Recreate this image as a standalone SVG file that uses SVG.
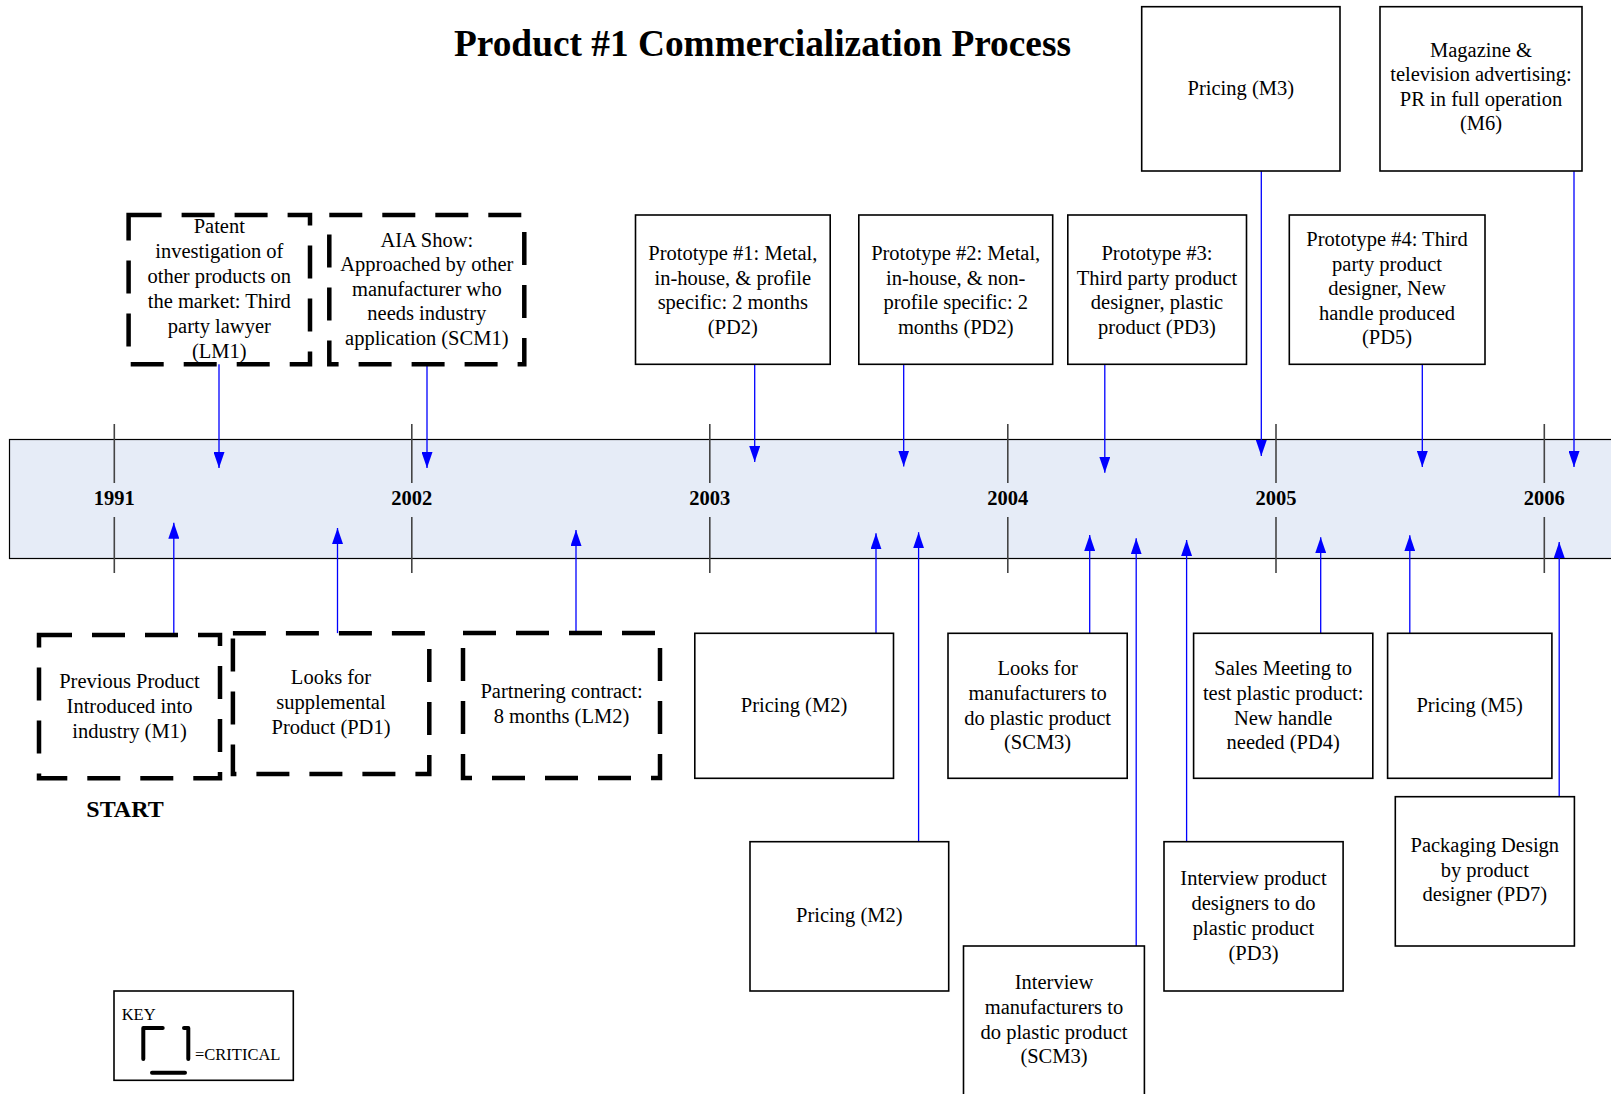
<svg xmlns="http://www.w3.org/2000/svg" width="1611" height="1094" viewBox="0 0 1611 1094">
<style>
  text { font-family: "Liberation Serif", "Times New Roman", serif; fill: #000; }
  .t { font-size: 20.5px; text-anchor: middle; }
  .yr { font-size: 20.5px; font-weight: bold; text-anchor: middle; }
  .box { fill: #fff; stroke: #000; stroke-width: 1.6; }
  .crit { fill: #fff; stroke: #000; stroke-width: 4.5; stroke-dasharray: 33 20; }
  .tick { stroke: #444; stroke-width: 1.6; }
  .conn line { stroke: #0000FF; stroke-width: 1.3; marker-end: url(#ah); }
</style>
<defs>
  <marker id="ah" markerUnits="userSpaceOnUse" markerWidth="16" markerHeight="11" refX="16" refY="5.5" orient="auto">
    <path d="M0,0 L16,5.5 L0,11 z" fill="#0000FF"/>
  </marker>
</defs>
<rect width="1611" height="1094" fill="#fff"/>

<text x="762.5" y="56" textLength="617" lengthAdjust="spacingAndGlyphs" style="font-size:38px;font-weight:bold;text-anchor:middle">Product #1 Commercialization Process</text>

<g id="timeline">
  <rect x="9.5" y="439.5" width="1700" height="119" fill="#E6ECF7" stroke="#000" stroke-width="1.2"/>
  <g class="tick">
    <line x1="114.3" y1="424" x2="114.3" y2="483"/><line x1="114.3" y1="517" x2="114.3" y2="573"/>
    <line x1="411.8" y1="424" x2="411.8" y2="483"/><line x1="411.8" y1="517" x2="411.8" y2="573"/>
    <line x1="709.8" y1="424" x2="709.8" y2="483"/><line x1="709.8" y1="517" x2="709.8" y2="573"/>
    <line x1="1007.8" y1="424" x2="1007.8" y2="483"/><line x1="1007.8" y1="517" x2="1007.8" y2="573"/>
    <line x1="1276" y1="424" x2="1276" y2="483"/><line x1="1276" y1="517" x2="1276" y2="573"/>
    <line x1="1544.3" y1="424" x2="1544.3" y2="483"/><line x1="1544.3" y1="517" x2="1544.3" y2="573"/>
  </g>
  <text class="yr" x="114.3" y="505">1991</text>
  <text class="yr" x="411.8" y="505">2002</text>
  <text class="yr" x="709.8" y="505">2003</text>
  <text class="yr" x="1007.8" y="505">2004</text>
  <text class="yr" x="1276" y="505">2005</text>
  <text class="yr" x="1544.3" y="505">2006</text>
</g>

<g id="connectors" class="conn">
  <line x1="219" y1="364" x2="219" y2="468"/>
  <line x1="427" y1="364" x2="427" y2="468"/>
  <line x1="754.7" y1="364" x2="754.7" y2="462"/>
  <line x1="903.7" y1="364" x2="903.7" y2="466.5"/>
  <line x1="1104.8" y1="364" x2="1104.8" y2="472.8"/>
  <line x1="1261.3" y1="171" x2="1261.3" y2="456"/>
  <line x1="1422.3" y1="364" x2="1422.3" y2="467"/>
  <line x1="1574" y1="171" x2="1574" y2="467"/>
  <line x1="173.8" y1="635" x2="173.8" y2="522.7"/>
  <line x1="337.5" y1="633.3" x2="337.5" y2="528"/>
  <line x1="576" y1="633" x2="576" y2="530"/>
  <line x1="876" y1="633.3" x2="876" y2="533.3"/>
  <line x1="918.6" y1="841.7" x2="918.6" y2="532.3"/>
  <line x1="1089.7" y1="633.3" x2="1089.7" y2="535"/>
  <line x1="1136.2" y1="946" x2="1136.2" y2="538.3"/>
  <line x1="1186.6" y1="841.7" x2="1186.6" y2="540"/>
  <line x1="1320.7" y1="633.3" x2="1320.7" y2="537.2"/>
  <line x1="1409.8" y1="633.3" x2="1409.8" y2="535.3"/>
  <line x1="1559.2" y1="796.7" x2="1559.2" y2="542"/>
</g>

<g id="patent">
  <rect class="crit" x="128.6" y="215" width="181.4" height="149.3"/>
  <text class="t" x="219.3" y="233">Patent</text>
  <text class="t" x="219.3" y="258">investigation of</text>
  <text class="t" x="219.3" y="283">other products on</text>
  <text class="t" x="219.3" y="308">the market: Third</text>
  <text class="t" x="219.3" y="333">party lawyer</text>
  <text class="t" x="219.3" y="358">(LM1)</text>
</g>
<g id="aia">
  <rect class="crit" x="329.3" y="215" width="195" height="149.3"/>
  <text class="t" x="426.8" y="246.5">AIA Show:</text>
  <text class="t" x="426.8" y="271">Approached by other</text>
  <text class="t" x="426.8" y="295.5">manufacturer who</text>
  <text class="t" x="426.8" y="320">needs industry</text>
  <text class="t" x="426.8" y="344.5">application (SCM1)</text>
</g>
<g id="proto1">
  <rect class="box" x="635.5" y="215" width="194.7" height="149.3"/>
  <text class="t" x="732.8" y="260">Prototype #1: Metal,</text>
  <text class="t" x="732.8" y="284.5">in-house, &amp; profile</text>
  <text class="t" x="732.8" y="309">specific: 2 months</text>
  <text class="t" x="732.8" y="333.5">(PD2)</text>
</g>
<g id="proto2">
  <rect class="box" x="858.8" y="215" width="193.9" height="149.3"/>
  <text class="t" x="955.7" y="260">Prototype #2: Metal,</text>
  <text class="t" x="955.7" y="284.5">in-house, &amp; non-</text>
  <text class="t" x="955.7" y="309">profile specific: 2</text>
  <text class="t" x="955.7" y="333.5">months (PD2)</text>
</g>
<g id="proto3">
  <rect class="box" x="1067.8" y="215" width="178.7" height="149.3"/>
  <text class="t" x="1157" y="260">Prototype #3:</text>
  <text class="t" x="1157" y="284.5">Third party product</text>
  <text class="t" x="1157" y="309">designer, plastic</text>
  <text class="t" x="1157" y="333.5">product (PD3)</text>
</g>
<g id="proto4">
  <rect class="box" x="1289.3" y="215" width="195.7" height="149.3"/>
  <text class="t" x="1387" y="246">Prototype #4: Third</text>
  <text class="t" x="1387" y="270.5">party product</text>
  <text class="t" x="1387" y="295">designer, New</text>
  <text class="t" x="1387" y="319.5">handle produced</text>
  <text class="t" x="1387" y="344">(PD5)</text>
</g>
<g id="pricing-m3">
  <rect class="box" x="1141.7" y="6.7" width="198.3" height="164.3"/>
  <text class="t" x="1240.8" y="95">Pricing (M3)</text>
</g>
<g id="advertising-m6">
  <rect class="box" x="1380" y="6.7" width="202" height="164.3"/>
  <text class="t" x="1481" y="56.5">Magazine &amp;</text>
  <text class="t" x="1481" y="81">television advertising:</text>
  <text class="t" x="1481" y="105.5">PR in full operation</text>
  <text class="t" x="1481" y="130">(M6)</text>
</g>

<g id="previous-product">
  <rect class="crit" x="39" y="635" width="181" height="143.3"/>
  <text class="t" x="129.5" y="688">Previous Product</text>
  <text class="t" x="129.5" y="713">Introduced into</text>
  <text class="t" x="129.5" y="738">industry (M1)</text>
</g>
<g id="start-label">
  <text x="125" y="817" style="font-size:24px;font-weight:bold;text-anchor:middle">START</text>
</g>
<g id="supplemental">
  <rect class="crit" x="232.9" y="633.3" width="196.4" height="140.7"/>
  <text class="t" x="331" y="684">Looks for</text>
  <text class="t" x="331" y="709">supplemental</text>
  <text class="t" x="331" y="734">Product (PD1)</text>
</g>
<g id="partnering">
  <rect class="crit" x="463" y="633" width="197" height="145"/>
  <text class="t" x="561.5" y="698">Partnering contract:</text>
  <text class="t" x="561.5" y="723">8 months (LM2)</text>
</g>
<g id="pricing-m2a">
  <rect class="box" x="694.8" y="633.3" width="198.7" height="145"/>
  <text class="t" x="794" y="712">Pricing (M2)</text>
</g>
<g id="looks-mfrs">
  <rect class="box" x="948" y="633.3" width="179.2" height="145"/>
  <text class="t" x="1037.6" y="675">Looks for</text>
  <text class="t" x="1037.6" y="700">manufacturers to</text>
  <text class="t" x="1037.6" y="724.5">do plastic product</text>
  <text class="t" x="1037.6" y="749">(SCM3)</text>
</g>
<g id="sales-meeting">
  <rect class="box" x="1193.6" y="633.3" width="179.2" height="145"/>
  <text class="t" x="1283.2" y="675">Sales Meeting to</text>
  <text class="t" x="1283.2" y="700">test plastic product:</text>
  <text class="t" x="1283.2" y="724.5">New handle</text>
  <text class="t" x="1283.2" y="749">needed (PD4)</text>
</g>
<g id="pricing-m5">
  <rect class="box" x="1387.6" y="633.3" width="164.3" height="145"/>
  <text class="t" x="1469.7" y="712">Pricing (M5)</text>
</g>
<g id="pricing-m2b">
  <rect class="box" x="750" y="841.7" width="198.7" height="149.3"/>
  <text class="t" x="849.3" y="921.5">Pricing (M2)</text>
</g>
<g id="interview-pd">
  <rect class="box" x="1164" y="841.7" width="179.1" height="149.3"/>
  <text class="t" x="1253.5" y="885">Interview product</text>
  <text class="t" x="1253.5" y="910">designers to do</text>
  <text class="t" x="1253.5" y="935">plastic product</text>
  <text class="t" x="1253.5" y="960">(PD3)</text>
</g>
<g id="interview-mfrs">
  <rect class="box" x="963.5" y="946" width="180.9" height="160"/>
  <text class="t" x="1054" y="989.3">Interview</text>
  <text class="t" x="1054" y="1014">manufacturers to</text>
  <text class="t" x="1054" y="1038.7">do plastic product</text>
  <text class="t" x="1054" y="1063.3">(SCM3)</text>
</g>
<g id="packaging">
  <rect class="box" x="1395.3" y="796.7" width="179.1" height="149.3"/>
  <text class="t" x="1484.8" y="851.7">Packaging Design</text>
  <text class="t" x="1484.8" y="876.5">by product</text>
  <text class="t" x="1484.8" y="901.3">designer (PD7)</text>
</g>

<g id="key">
  <rect class="box" x="114" y="991" width="179.3" height="89.3"/>
  <text x="121.7" y="1020" style="font-size:16.5px">KEY</text>
  <path d="M143.3,1059 V1028 H162.7 M184,1028 H188.3 V1059 M152,1072.7 H185" fill="none" stroke="#000" stroke-width="4" stroke-linecap="round" stroke-linejoin="round"/>
  <text x="195" y="1060" style="font-size:16.5px">=CRITICAL</text>
</g>
</svg>
